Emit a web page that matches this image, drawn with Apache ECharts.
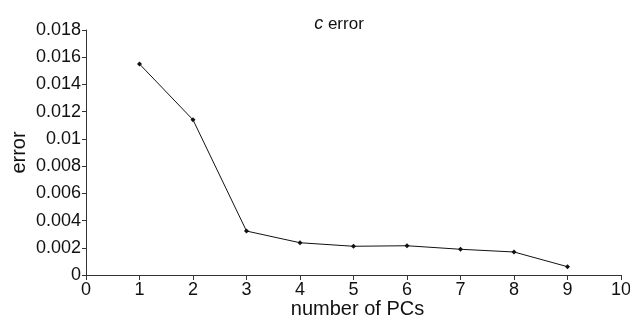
<!DOCTYPE html>
<html>
<head>
<meta charset="utf-8">
<script src="https://cdn.jsdelivr.net/npm/echarts@6/dist/echarts.min.js"></script>
<style>
  html, body { margin: 0; padding: 0; background: #fff; }
  #main { width: 630px; height: 318px; }
</style>
</head>
<body>
<div id="main"></div>
<script type="text/javascript">
    // number of PCs vs error
    var pcs = [1, 2, 3, 4, 5, 6, 7, 8, 9];
    var errors = [0.0155, 0.0114, 0.00323, 0.00237, 0.00211, 0.00215, 0.00189, 0.00169, 0.00061];

    var chart = echarts.init(document.getElementById('main'));
    var points = [];
    for (var i = 0; i < pcs.length; i++) {
        points.push([pcs[i], errors[i]]);
    }
    var font = 'Liberation Sans, Arial, sans-serif';

    chart.setOption({
        animation: false,
        title: {
            text: '{i|c} error',
            left: 334,
            top: 10,
            textAlign: 'center',
            textStyle: {
                fontFamily: font,
                fontSize: 17,
                fontWeight: 'normal',
                color: '#111',
                rich: {
                    i: { fontStyle: 'italic', fontSize: 18, fontFamily: font, color: '#111' }
                }
            }
        },
        grid: { left: 86, right: 9, top: 30, bottom: 43, containLabel: false, outerBoundsMode: 'none' },
        xAxis: {
            type: 'value',
            min: 0,
            max: 10,
            interval: 1,
            name: 'number of PCs',
            nameLocation: 'middle',
            nameGap: 24,
            nameMoveOverlap: false,
            nameTextStyle: { fontFamily: font, fontSize: 20, color: '#111', padding: [0, 0, 0, 8] },
            axisLine: { lineStyle: { color: '#333', width: 1 } },
            axisTick: { inside: false, length: 5, lineStyle: { color: '#333' } },
            axisLabel: { fontFamily: font, fontSize: 18, color: '#111', margin: 6 },
            splitLine: { show: false }
        },
        yAxis: {
            type: 'value',
            min: 0,
            max: 0.018,
            interval: 0.002,
            name: 'error',
            nameLocation: 'middle',
            nameGap: 57,
            nameMoveOverlap: false,
            nameTextStyle: { fontFamily: font, fontSize: 20, color: '#111' },
            axisLine: { show: true, lineStyle: { color: '#333', width: 1 } },
            axisTick: { show: true, length: 4, lineStyle: { color: '#333' } },
            axisLabel: { fontFamily: font, fontSize: 18, color: '#111', margin: 5 },
            splitLine: { show: false }
        },
        series: [{
            type: 'line',
            data: points,
            symbol: 'diamond',
            symbolSize: 5,
            lineStyle: { color: '#111', width: 1 },
            itemStyle: { color: '#111' }
        }]
    });
</script>
</body>
</html>
